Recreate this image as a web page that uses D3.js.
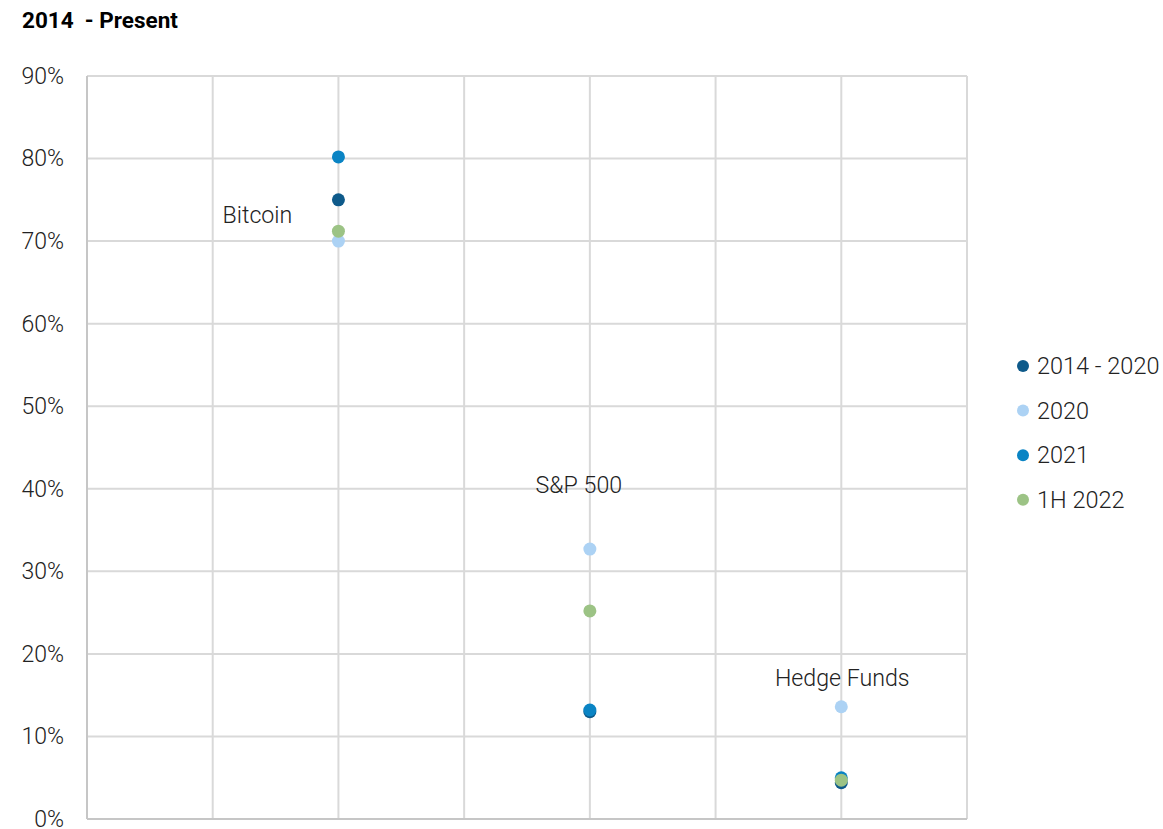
<!DOCTYPE html>
<html><head><meta charset="utf-8">
<script src="https://cdn.jsdelivr.net/npm/d3@7"></script>
<style>body{margin:0;background:#fff;} svg{display:block;}</style>
</head><body>
<svg id="c" width="1163" height="829"></svg>
<script>
const title = "2014  - Present";
const categories = ["Bitcoin", "S&P 500", "Hedge Funds"];
const categoryX = [1, 2, 3];
const seriesNames = ["2014 - 2020", "2020", "2021", "1H 2022"];
const seriesColors = ["#0e5a8a", "#acd2f4", "#0a84c4", "#9cc385"];
const s2014_2020 = [0.75, 0.13, 0.044];
const s2020 = [0.70, 0.327, 0.136];
const s2021 = [0.802, 0.132, 0.050];
const s1H2022 = [0.712, 0.252, 0.047];
const seriesValues = [s2014_2020, s2020, s2021, s1H2022];
const yTicks = [0,0.1,0.2,0.3,0.4,0.5,0.6,0.7,0.8,0.9];
const xTicks = [0,0.5,1,1.5,2,2.5,3,3.5];

const svg = d3.select("#c");
const font = "Roboto, 'Open Sans', sans-serif";
const x = d3.scaleLinear().domain([0,3.5]).range([87,967]);
const y = d3.scaleLinear().domain([0,0.9]).range([819,76]);

svg.append("text").attr("x",22).attr("y",28).attr("font-family",font)
  .style("white-space","pre")
  .attr("font-weight","bold").attr("font-size",22.5).attr("fill","#000").text(title);

// grid
svg.append("g").selectAll("line").data(yTicks).join("line")
  .attr("x1",87).attr("x2",967).attr("y1",d=>y(d)).attr("y2",d=>y(d))
  .attr("stroke","#d9d9d9").attr("stroke-width",2);
svg.append("g").selectAll("line").data(xTicks).join("line")
  .attr("x1",d=>x(d)).attr("x2",d=>x(d)).attr("y1",76).attr("y2",819)
  .attr("stroke","#d9d9d9").attr("stroke-width",2);
// axes
svg.append("line").attr("x1",87).attr("x2",87).attr("y1",76).attr("y2",819).attr("stroke","#c6c6c6").attr("stroke-width",2);
svg.append("line").attr("x1",87).attr("x2",967).attr("y1",819).attr("y2",819).attr("stroke","#c6c6c6").attr("stroke-width",2);

const yAxis = d3.axisLeft(y).tickValues(yTicks).tickFormat(d3.format(".0%")).tickSize(0).tickPadding(23);
const ga = svg.append("g").attr("transform","translate(87,0)").call(yAxis);
ga.select(".domain").remove();
ga.selectAll("text").attr("font-family",font).attr("font-weight",300).attr("font-size",23).attr("fill","#222");

// points
seriesValues.forEach((vals,i)=>{
  svg.append("g").selectAll("circle").data(vals).join("circle")
    .attr("cx",(d,j)=>x(categoryX[j])).attr("cy",d=>y(d)).attr("r",6.5)
    .attr("fill",seriesColors[i]);
});

// category labels
const labelAnchor = [s2014_2020[0], s2020[1], s2020[2]];
const labelOffsets = [[-81, 23], [-11, -56], [1, -21]];
svg.append("g").selectAll("text").data(categories).join("text")
  .attr("x",(d,i)=>x(categoryX[i])+labelOffsets[i][0])
  .attr("y",(d,i)=>y(labelAnchor[i])+labelOffsets[i][1])
  .attr("text-anchor","middle").attr("font-family",font).attr("font-weight",300)
  .attr("font-size",23.2).attr("fill","#222").text(d=>d);

// legend
const lg = svg.append("g").selectAll("g").data(seriesNames).join("g")
  .attr("transform",(d,i)=>`translate(1023,${366+i*44.6})`);
lg.append("circle").attr("r",6).attr("fill",(d,i)=>seriesColors[i]);
lg.append("text").attr("x",14).attr("y",8).attr("font-family",font).attr("font-weight",300)
  .attr("font-size",23.5).attr("fill","#222").text(d=>d);
</script>
</body></html>
